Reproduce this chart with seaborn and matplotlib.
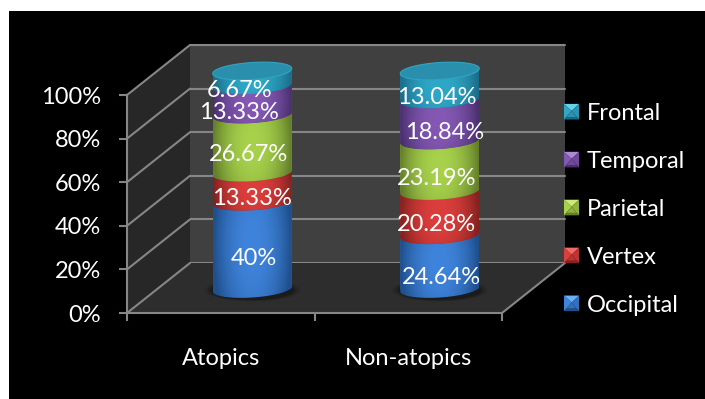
import numpy as np
import pandas as pd
import seaborn as sns
import matplotlib
matplotlib.use("Agg")
import matplotlib.pyplot as plt
from matplotlib.legend_handler import HandlerBase
from matplotlib.patches import Ellipse, Patch, Polygon, Rectangle
from matplotlib.path import Path

groups = ["Atopics", "Non-atopics"]
occipital = [40, 24.64]
vertex = [13.33, 20.28]
parietal = [26.67, 23.19]
temporal = [13.33, 18.84]
frontal = [6.67, 13.04]
region_names = ["Occipital", "Vertex", "Parietal", "Temporal", "Frontal"]
percent_ticks = [0, 20, 40, 60, 80, 100]

# (bar colour, bright centre, dark edge, legend top facet)
palette = {
    "Occipital": ("#3470bd", "#3f84dc", "#1f4f8c", "#6cb0f0"),
    "Vertex": ("#bd3432", "#dc3e3c", "#832220", "#f06a66"),
    "Parietal": ("#8fb33e", "#a8d24c", "#64802a", "#cfe87a"),
    "Temporal": ("#6f4a9a", "#8458b4", "#4a3070", "#ab8ad4"),
    "Frontal": ("#2a94b4", "#2fa8c8", "#1a6c88", "#66d2ea"),
}
# pixel nudges for the value labels, one row per region
label_nudges = {
    "Occipital": [(2, -13), (2, -15)],
    "Vertex": [(0, -11), (-3, -11)],
    "Parietal": [(-4, -11), (-3, -13)],
    "Temporal": [(-13, -12), (5, -13)],
    "Frontal": [(-13, -12), (-3, -12)],
}

W, H = 705, 399
LINE = "#868686"
TEXT_SIZE = 17
sns.set_theme(style="white")
plt.rcParams["font.family"] = ["Lato", "DejaVu Sans"]

fig = plt.figure(figsize=(W / 100, H / 100), dpi=100, facecolor="white")
fig.patches.append(Rectangle((9 / W, 0), 1 - 9 / W, 1 - 11 / H, transform=fig.transFigure,
                             facecolor="black", edgecolor="none", zorder=-10))


def frame_axes(dx, dy, zorder):
    """Axes for the plot box, moved dx px right and dy px up along the depth."""
    left, right, top, bottom = 127 + dx, 502 + dx, 95 - dy, 313 - dy
    ax = fig.add_axes([left / W, 1 - bottom / H, (right - left) / W, (bottom - top) / H],
                      zorder=zorder)
    ax.set_xlim(-0.5, 1.5)
    ax.set_ylim(0, 100)
    ax.patch.set_alpha(0)
    for side in ax.spines.values():
        side.set_visible(False)
    ax.set_xticks([])
    ax.set_yticks([])
    return ax


PX_X = 2 / 375  # one pixel in category units
PX_Y = 100 / 218  # one pixel in percent units
DEPTH_X, DEPTH_Y = 63 * PX_X, 50 * PX_Y

# back wall with its gridlines
back = frame_axes(63, 50, 1)
back.patch.set_alpha(1)
back.patch.set_facecolor("#404040")
for v in percent_ticks:
    back.axhline(v, color=LINE, lw=1.5, clip_on=False)

# front plane: carries the axes, the side wall and the floor
front = frame_axes(0, 0, 2)
x0, x1 = -0.5, 1.5
front.add_patch(Polygon([(x0, 0), (x0, 100), (x0 + DEPTH_X, 100 + DEPTH_Y), (x0 + DEPTH_X, DEPTH_Y)],
                        facecolor="#272727", edgecolor="none", clip_on=False))
front.add_patch(Polygon([(x0, 0), (x1, 0), (x1 + DEPTH_X, DEPTH_Y), (x0 + DEPTH_X, DEPTH_Y)],
                        facecolor="#2d2d2d", edgecolor="none", clip_on=False))
for v in percent_ticks:
    front.plot([x0, x0 + DEPTH_X], [v, v + DEPTH_Y], color=LINE, lw=1.5, clip_on=False,
               solid_capstyle="round")
front.plot([x1, x1 + DEPTH_X], [0, DEPTH_Y], color=LINE, lw=1.5, clip_on=False)
for name in ("left", "bottom"):
    front.spines[name].set_visible(True)
    front.spines[name].set_color(LINE)
    front.spines[name].set_linewidth(1.5)
front.set_yticks(percent_ticks, [f"{v}%" for v in percent_ticks])
front.set_xticks([-0.5, 0.5, 1.5], ["", "", ""])
front.set_xticks([0, 1], groups, minor=True)
front.tick_params(axis="y", which="major", length=5.5, width=1.5, color=LINE, left=True,
                  labelcolor="white", labelsize=TEXT_SIZE, pad=13)
front.tick_params(axis="x", which="major", length=5.5, width=1.5, color=LINE, bottom=True)
front.tick_params(axis="x", which="minor", length=0, labelcolor="white", labelsize=TEXT_SIZE, pad=25)

# stacked columns sit half way along the depth
cyl = frame_axes(31.5, 24, 3)
table = pd.DataFrame({"group": groups, "Occipital": occipital, "Vertex": vertex,
                      "Parietal": parietal, "Temporal": temporal, "Frontal": frontal})
A, B, TILT = 39.5 * PX_X, 8.5 * PX_Y, 2.5 * PX_Y
BAR_WIDTH = 2 * A

for cx in range(len(groups)):
    for scale, alpha in ((1.20, 0.10), (1.13, 0.14), (1.06, 0.2)):
        cyl.add_patch(Ellipse((cx, -0.5), 2 * A * scale, 2 * B * scale * 1.1, facecolor="black",
                              alpha=alpha, edgecolor="none", clip_on=False, zorder=0))

t_front = np.linspace(np.pi, 0, 60)


def front_arc(cx, level, t=t_front):
    return np.column_stack([cx + A * np.cos(t), level + TILT * np.cos(t) - B * np.sin(t)])


bottoms = np.zeros(len(groups))
for name in region_names:
    values = table[name].to_numpy()
    before = len(cyl.patches)
    sns.barplot(data=table, x="group", y=name, bottom=bottoms, color=palette[name][0], saturation=1,
                width=BAR_WIDTH, errorbar=None, ax=cyl, zorder=1, linewidth=0)
    bars = cyl.patches[before:]
    for i, bar in enumerate(bars):
        level0, level1 = bottoms[i], bottoms[i] + values[i]
        lower = front_arc(i, level0)
        upper = front_arc(i, level1)[::-1]
        outline = Path(np.vstack([lower, upper, lower[:1]]), closed=True)
        bar.set_clip_path(outline, transform=cyl.transData)
        # shaded surface of this band of the column
        u, v = np.meshgrid(np.linspace(-1, 1, 80), np.linspace(-1, 1, 60))
        r = np.clip(np.sqrt(u ** 2 + (0.55 * v) ** 2), 0, 1)[..., None] ** 2.2
        bright = np.array(matplotlib.colors.to_rgb(palette[name][1]))
        dark = np.array(matplotlib.colors.to_rgb(palette[name][2]))
        im = cyl.imshow(bright * (1 - r) + dark * r, aspect="auto", origin="lower", zorder=2,
                        extent=(i - A, i + A, level0 - 2 * B, level1 + 2 * B), interpolation="bilinear")
        im.set_clip_box(fig.bbox)
        im.set_clip_path(outline, transform=cyl.transData)
    bottoms = bottoms + values

# top face of each column
for i, total in enumerate(bottoms):
    t = np.linspace(0, 2 * np.pi, 120)
    ring = np.column_stack([i + A * np.cos(t), total + TILT * np.cos(t) + B * np.sin(t)])
    cyl.add_patch(Polygon(ring, closed=True, facecolor="#2a8fac", edgecolor="#2fa5c4", lw=0.8,
                          zorder=3, clip_on=False))

cyl.set_xlim(-0.5, 1.5)
cyl.set_ylim(0, 100)
cyl.set_xlabel("")
cyl.set_ylabel("")
cyl.set_xticks([])
cyl.set_yticks([])
for side in cyl.spines.values():
    side.set_visible(False)

# value labels
bottoms = np.zeros(len(groups))
for name in region_names:
    values = table[name].to_numpy()
    for i, value in enumerate(values):
        cyl.annotate(f"{value:g}%", (i, bottoms[i] + value / 2), xytext=label_nudges[name][i],
                     textcoords="offset pixels", ha="center", va="center", color="white",
                     fontsize=TEXT_SIZE, zorder=6, annotation_clip=False)
    bottoms = bottoms + values


class BevelHandler(HandlerBase):
    """Legend key shaped like a bevelled square."""

    def create_artists(self, legend, orig_handle, xd, yd, width, height, fontsize, trans):
        name = orig_handle.get_label()
        base, bright, dark, light = palette[name]
        x, y = -xd, -yd
        w, h = width, height
        inset = 0.16 * w
        c = (x + w / 2, y + h * 0.55)
        tl, tr, br, bl = (x, y + h), (x + w, y + h), (x + w, y), (x, y)
        b1, b2 = (x + inset, y + inset), (x + w - inset, y + inset)
        facets = [
            ([tl, tr, c], light),
            ([tl, c, b1, bl], bright),
            ([tr, br, b2, c], base),
            ([b1, b2, c], base),
            ([bl, br, b2, b1], dark),
        ]
        return [Polygon(pts, closed=True, facecolor=col, edgecolor="none", transform=trans)
                for pts, col in facets]


handles = [Patch(label=name) for name in reversed(region_names)]
legend = fig.legend(handles=handles, labels=list(reversed(region_names)),
                    handler_map={Patch: BevelHandler()}, loc="upper left",
                    bbox_to_anchor=(564 / W, 1 - 103 / H), bbox_transform=fig.transFigure,
                    frameon=False, fontsize=TEXT_SIZE, labelcolor="white",
                    handlelength=0.64, handleheight=0.64, handletextpad=0.32,
                    labelspacing=1.14, borderpad=0, borderaxespad=0)
legend.set_zorder(5)

fig.savefig("out.png", dpi=100, facecolor=fig.get_facecolor())
